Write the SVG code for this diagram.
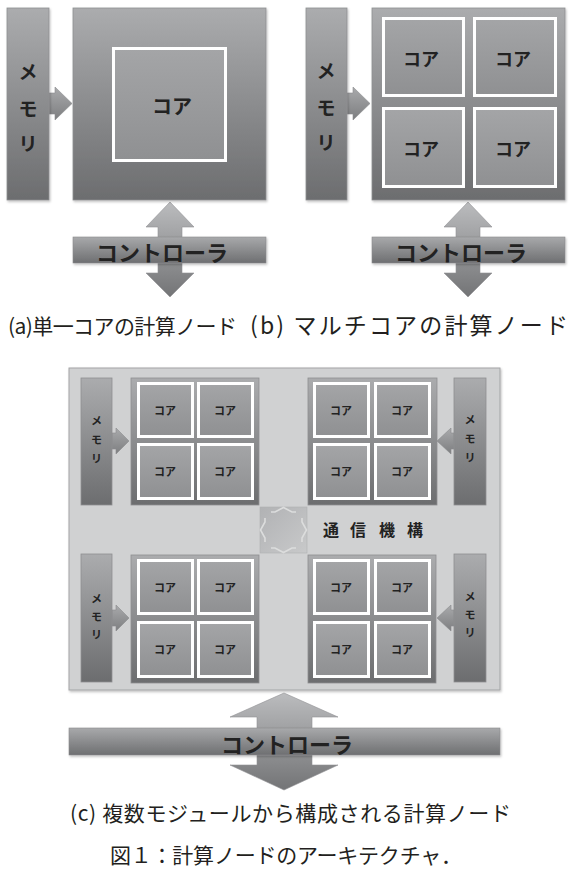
<svg xmlns="http://www.w3.org/2000/svg" width="572" height="873" viewBox="0 0 572 873">
<defs>
<linearGradient id="gDark" x1="0" y1="0" x2="0" y2="1"><stop offset="0" stop-color="#abacae"/><stop offset="1" stop-color="#6c6d6f"/></linearGradient>
<linearGradient id="gCore" x1="0" y1="0" x2="0" y2="1"><stop offset="0" stop-color="#a4a5a7"/><stop offset="1" stop-color="#8f9092"/></linearGradient>
<linearGradient id="gArrow" x1="0" y1="0" x2="0" y2="1"><stop offset="0" stop-color="#bbbcbe"/><stop offset="1" stop-color="#737476"/></linearGradient>
<linearGradient id="gArrowH" x1="0" y1="0" x2="0" y2="1"><stop offset="0" stop-color="#a9aaac"/><stop offset="1" stop-color="#7d7e80"/></linearGradient>
<linearGradient id="gCtrl" x1="0" y1="0" x2="0" y2="1"><stop offset="0" stop-color="#a8a9ab"/><stop offset="1" stop-color="#6e6f71"/></linearGradient>
<linearGradient id="gComm" x1="0" y1="0" x2="1" y2="1"><stop offset="0" stop-color="#b1b2b4"/><stop offset="1" stop-color="#c8c9ca"/></linearGradient>
<filter id="sh" x="-10%" y="-10%" width="130%" height="130%"><feDropShadow dx="1" dy="1.5" stdDeviation="1" flood-color="#000" flood-opacity="0.25"/></filter>
</defs>
<style>
.box{fill:url(#gDark);stroke:#8e8f91;stroke-width:0.8}
.core{fill:url(#gCore);stroke:#ffffff;stroke-width:3}
.arr{fill:url(#gArrow);stroke:#909193;stroke-width:0.6}
.arrh{fill:url(#gArrowH);stroke:#8a8b8d;stroke-width:0.6}
.ctrl{fill:url(#gCtrl);stroke:#8a8b8d;stroke-width:0.6}
.lbl{font-family:"Noto Sans CJK JP",sans-serif;font-weight:700;fill:#222222;text-anchor:middle;dominant-baseline:central}
.big{font-size:19px}
.ctl{font-size:22px}
.sm{font-size:11px}
.cap{font-family:"Noto Sans CJK JP",sans-serif;fill:#231f20}
</style>
<rect width="572" height="873" fill="#ffffff"/>

<!-- (c) container background -->
<g id="container-c">
<rect x="69" y="368" width="431" height="322" fill="#d0d1d2" stroke="#a3a4a6" stroke-width="1" filter="url(#sh)"/>
</g>

<g id="connectors">
<!-- (a) -->
<path class="arrh" d="M49,93 L55,93 L55,87 L72,103.5 L55,120 L55,114 L49,114 Z"/>
<path class="arr" d="M170,202 L194,227 L182,227 L182,273 L194,273 L170,297 L146,273 L158,273 L158,227 L146,227 Z"/>
<!-- (b) -->
<path class="arrh" d="M347,93 L353,93 L353,87 L370,103.5 L353,120 L353,114 L347,114 Z"/>
<path class="arr" d="M468,202 L492,227 L480,227 L480,273 L492,273 L468,297 L444,273 L456,273 L456,227 L444,227 Z"/>
<!-- (c) memory arrows -->
<path class="arrh" d="M112,433 L116,433 L116,428 L129,441 L116,454 L116,449 L112,449 Z"/>
<path class="arrh" d="M112,610 L116,610 L116,605 L129,618 L116,631 L116,626 L112,626 Z"/>
<path class="arrh" d="M454,433 L451,433 L451,428 L437,441 L451,454 L451,449 L454,449 Z"/>
<path class="arrh" d="M454,610 L451,610 L451,605 L437,618 L451,631 L451,626 L454,626 Z"/>
<!-- (c) controller arrow -->
<path class="arr" d="M284,693 L338,717 L312,717 L312,765 L338,765 L284,790 L230,765 L257,765 L257,717 L230,717 Z"/>
</g>

<!-- (a) single core node -->
<g id="a-memory">
<rect class="box" x="7" y="8" width="42" height="192" filter="url(#sh)"/>
<text class="lbl big" x="28" y="70">メ</text>
<text class="lbl big" x="28" y="107">モ</text>
<text class="lbl big" x="28" y="142">リ</text>
</g>
<g id="a-node">
<rect class="box" x="73" y="8" width="193" height="192" filter="url(#sh)"/>
<rect class="core" x="113.5" y="48.5" width="112" height="112"/>
<text class="lbl" x="172" y="105" font-size="20">コア</text>
</g>
<g id="a-controller">
<rect class="ctrl" x="73" y="237" width="193" height="26" filter="url(#sh)"/>
<text class="lbl ctl" x="162" y="251">コントローラ</text>
</g>

<!-- (b) multi core node -->
<g id="b-memory">
<rect class="box" x="306" y="8" width="41" height="192" filter="url(#sh)"/>
<text class="lbl big" x="326" y="69">メ</text>
<text class="lbl big" x="326" y="106">モ</text>
<text class="lbl big" x="326" y="141">リ</text>
</g>
<g id="b-node">
<rect class="box" x="372" y="8" width="193" height="192" filter="url(#sh)"/>
<rect class="core" x="383.5" y="18.5" width="80" height="77"/>
<rect class="core" x="474.5" y="18.5" width="81" height="77"/>
<rect class="core" x="383.5" y="108.5" width="80" height="78"/>
<rect class="core" x="474.5" y="108.5" width="81" height="78"/>
<text class="lbl" x="421" y="58" font-size="18">コア</text>
<text class="lbl" x="513" y="58" font-size="18">コア</text>
<text class="lbl" x="421" y="148" font-size="18">コア</text>
<text class="lbl" x="513" y="148" font-size="18">コア</text>
</g>
<g id="b-controller">
<rect class="ctrl" x="372" y="237" width="193" height="26" filter="url(#sh)"/>
<text class="lbl ctl" x="461" y="251">コントローラ</text>
</g>

<!-- (c) modules -->
<g id="c-memory-tl">
<rect class="box" x="81" y="378" width="31" height="127"/>
<text class="lbl sm" x="96.5" y="420">メ</text>
<text class="lbl sm" x="96.5" y="439">モ</text>
<text class="lbl sm" x="96.5" y="458">リ</text>
</g>
<g id="c-module-tl">
<rect class="box" x="131" y="378" width="128" height="127"/>
<rect class="core" x="138.5" y="383.5" width="54" height="53"/>
<rect class="core" x="198.5" y="383.5" width="54" height="53"/>
<rect class="core" x="138.5" y="444.5" width="54" height="54"/>
<rect class="core" x="198.5" y="444.5" width="54" height="54"/>
<text class="lbl sm" x="165" y="410">コア</text>
<text class="lbl sm" x="225" y="410">コア</text>
<text class="lbl sm" x="165" y="471">コア</text>
<text class="lbl sm" x="225" y="471">コア</text>
</g>
<g id="c-module-tr">
<rect class="box" x="308" y="378" width="129" height="127"/>
<rect class="core" x="314.5" y="383.5" width="54" height="53"/>
<rect class="core" x="375.5" y="383.5" width="54" height="53"/>
<rect class="core" x="314.5" y="444.5" width="54" height="54"/>
<rect class="core" x="375.5" y="444.5" width="54" height="54"/>
<text class="lbl sm" x="341" y="410">コア</text>
<text class="lbl sm" x="402" y="410">コア</text>
<text class="lbl sm" x="341" y="471">コア</text>
<text class="lbl sm" x="402" y="471">コア</text>
</g>
<g id="c-memory-tr">
<rect class="box" x="454" y="378" width="32" height="127"/>
<text class="lbl sm" x="470" y="419">メ</text>
<text class="lbl sm" x="470" y="438">モ</text>
<text class="lbl sm" x="470" y="457">リ</text>
</g>
<g id="c-memory-bl">
<rect class="box" x="81" y="554" width="31" height="128"/>
<text class="lbl sm" x="96.5" y="598">メ</text>
<text class="lbl sm" x="96.5" y="616">モ</text>
<text class="lbl sm" x="96.5" y="634">リ</text>
</g>
<g id="c-module-bl">
<rect class="box" x="131" y="555" width="128" height="128"/>
<rect class="core" x="138.5" y="560.5" width="54" height="53"/>
<rect class="core" x="198.5" y="560.5" width="54" height="53"/>
<rect class="core" x="138.5" y="622.5" width="54" height="54"/>
<rect class="core" x="198.5" y="622.5" width="54" height="54"/>
<text class="lbl sm" x="165" y="587">コア</text>
<text class="lbl sm" x="225" y="587">コア</text>
<text class="lbl sm" x="165" y="649">コア</text>
<text class="lbl sm" x="225" y="649">コア</text>
</g>
<g id="c-module-br">
<rect class="box" x="308" y="555" width="128" height="128"/>
<rect class="core" x="314.5" y="560.5" width="54" height="53"/>
<rect class="core" x="375.5" y="560.5" width="54" height="53"/>
<rect class="core" x="314.5" y="622.5" width="54" height="54"/>
<rect class="core" x="375.5" y="622.5" width="54" height="54"/>
<text class="lbl sm" x="341" y="587">コア</text>
<text class="lbl sm" x="402" y="587">コア</text>
<text class="lbl sm" x="341" y="649">コア</text>
<text class="lbl sm" x="402" y="649">コア</text>
</g>
<g id="c-memory-br">
<rect class="box" x="454" y="554" width="32" height="128"/>
<text class="lbl sm" x="470" y="596">メ</text>
<text class="lbl sm" x="470" y="614">モ</text>
<text class="lbl sm" x="470" y="632">リ</text>
</g>
<g id="c-comm">
<rect x="260" y="507" width="47" height="46" fill="url(#gComm)" stroke="#b0b1b3" stroke-width="0.6"/>
<g fill="none" stroke="#dcdddd" stroke-width="1.6">
<path d="M271,512 L275,512 L283.5,507.5 L292,512 L296,512"/>
<path d="M271,548 L275,548 L283.5,552.5 L292,548 L296,548"/>
<path d="M265,518 L265,522 L260.5,530 L265,538 L265,542"/>
<path d="M302,518 L302,522 L306.5,530 L302,538 L302,542"/>
</g>
<g class="lbl" font-size="16">
<text x="331" y="529">通</text>
<text x="358" y="529">信</text>
<text x="387" y="529">機</text>
<text x="415" y="529">構</text>
</g>
</g>
<g id="c-controller">
<rect class="ctrl" x="69" y="728" width="431" height="27" filter="url(#sh)"/>
<text class="lbl ctl" x="287" y="742.5">コントローラ</text>
</g>

<!-- captions -->
<g id="captions">
<text class="cap" x="8" y="334" font-size="21" textLength="229" lengthAdjust="spacing">(a)単一コアの計算ノード</text>
<text class="cap" x="250" y="334" font-size="23" textLength="318" lengthAdjust="spacing">(b) マルチコアの計算ノード</text>
<text class="cap" x="70" y="821" font-size="21" textLength="441" lengthAdjust="spacing">(c) 複数モジュールから構成される計算ノード</text>
<text class="cap" x="110" y="863" font-size="21" textLength="352" lengthAdjust="spacing">図１：計算ノードのアーキテクチャ．</text>
</g>
</svg>
